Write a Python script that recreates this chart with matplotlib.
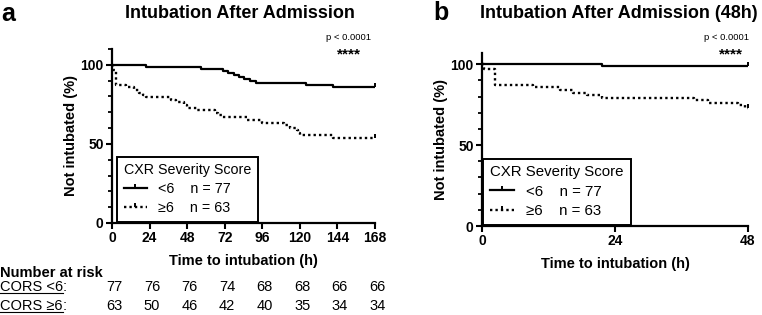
import matplotlib
matplotlib.use("Agg")
import matplotlib.pyplot as plt
from matplotlib.lines import Line2D
from matplotlib import transforms
from matplotlib.ticker import MultipleLocator

plt.rcParams['font.family'] = ['Liberation Sans', 'DejaVu Sans']

# panel a: 0-168 h, Kaplan-Meier steps
a_low_t = [0, 22, 57, 71, 74, 78, 81, 84, 88, 92, 124, 141, 168]
a_low_s = [100, 98.7, 97.4, 96.1, 94.8, 93.5, 92.2, 90.9, 89.6, 88.3, 87.0, 85.7, 85.7]
a_high_t = [0, 0.4, 2.5, 9, 14, 17, 20, 22, 38, 41, 46, 48, 54, 66, 68, 70,
            86, 96, 110, 114, 118, 119, 120, 141, 168]
a_high_s = [100, 96.8, 87.3, 85.7, 84.1, 82.5, 81.0, 79.4, 77.8, 76.2, 74.6, 73.0,
            71.4, 69.8, 68.3, 66.7, 65.1, 63.5, 61.9, 60.3, 58.7, 57.1, 55.6, 54.0, 54.0]

# panel b: first 48 h
b_low_t = [0, 21.7, 48]
b_low_s = [100, 98.7, 98.7]
b_high_t = [0, 0.3, 2.3, 9.2, 14, 16.5, 19, 21.7, 38.2, 40.8, 46.2, 47.5, 48]
b_high_s = [100, 96.8, 87.3, 85.7, 84.1, 82.5, 81.0, 79.4, 77.8, 76.2, 74.6, 73.0, 73.0]

risk_times = [0, 24, 48, 72, 96, 120, 144, 168]
risk_low = [77, 76, 76, 74, 68, 68, 66, 66]
risk_high = [63, 50, 46, 42, 40, 35, 34, 34]

W, H = 762, 315
fig = plt.figure(figsize=(W / 100, H / 100), dpi=100)


def px_axes(left, right, top, bottom):
    return fig.add_axes([left / W, 1 - bottom / H, (right - left) / W, (bottom - top) / H])


def ftxt(x, y, s, **kw):
    kw.setdefault('va', 'center')
    return fig.text(x / W, 1 - y / H, s, **kw)


def style(ax, xmax, xstep, ytop):
    ax.set_xlim(0, xmax)
    ax.set_ylim(0, ytop)
    for sp in ['top', 'right']:
        ax.spines[sp].set_visible(False)
    for sp in ['left', 'bottom']:
        ax.spines[sp].set_linewidth(1.6)
    ax.xaxis.set_major_locator(MultipleLocator(xstep))
    ax.yaxis.set_major_locator(MultipleLocator(50))
    ax.yaxis.set_minor_locator(MultipleLocator(10))
    ax.tick_params(axis='both', which='major', direction='out', length=4, width=1.5,
                   labelsize=10, pad=2)
    ax.tick_params(axis='y', which='minor', left=True, direction='out', length=3.2, width=1.3)
    for lab in ax.get_xticklabels() + ax.get_yticklabels():
        lab.set_fontweight('bold')
    ax.set_xlabel('Time to intubation (h)', fontsize=10.5, fontweight='bold', labelpad=6)
    ax.set_ylabel('Not intubated (%)', fontsize=10.5, fontweight='bold', labelpad=2)
    ax.patch.set_visible(False)


def draw(ax, lt, ls, ht, hs):
    ax.plot(lt, ls, drawstyle='steps-post', color='black', lw=1.6, solid_capstyle='butt')
    ax.plot(ht, hs, drawstyle='steps-post', color='black', lw=1.7, linestyle=(0, (1, 1.3)))
    ax.plot([lt[-1]], [ls[-1]], marker=2, color='black', ms=3, mew=1.4)
    ax.plot([ht[-1]], [hs[-1]], marker=2, color='black', ms=3, mew=1.4)
    handles = [Line2D([], [], color='black', lw=1.6, marker=2, ms=3, mew=1.4),
               Line2D([], [], color='black', lw=1.7, linestyle=(0, (1, 1.3)), marker=2, ms=3, mew=1.4)]
    return handles


labels = ['<6    n = 77', '\u22656    n = 63']


def legend(ax, h, x0, fs):
    leg = ax.legend(h, labels, title='CXR Severity Score', loc='lower left',
                    bbox_to_anchor=(x0, 0.0), fontsize=fs, title_fontsize=fs,
                    alignment='left', numpoints=1, handlelength=1.6, handletextpad=0.8,
                    fancybox=False, edgecolor='black', framealpha=1, borderpad=0.45,
                    labelspacing=0.35, borderaxespad=0.1)
    leg.get_frame().set_linewidth(1.4)


# ---- panel a
ax_a = px_axes(112, 375, 49, 223)
style(ax_a, 168, 24, 110)
legend(ax_a, draw(ax_a, a_low_t, a_low_s, a_high_t, a_high_s), 0.015, 10.3)

# ---- panel b
ax_b = px_axes(482, 748, 53, 226)
style(ax_b, 48, 24, 107)
legend(ax_b, draw(ax_b, b_low_t, b_low_s, b_high_t, b_high_s), 0.0, 10.8)

# titles, panel letters, p values
ftxt(1, 14, 'a', fontsize=18, fontweight='bold', ha='left')
ftxt(433, 13, 'b', fontsize=18, fontweight='bold', ha='left')
ftxt(240, 13, 'Intubation After Admission', fontsize=13, fontweight='bold', ha='center')
ftxt(619, 13, 'Intubation After Admission (48h)', fontsize=13, fontweight='bold', ha='center')
ftxt(349, 38, 'p < 0.0001', fontsize=6.8, ha='center')
ftxt(349, 54, '****', fontsize=11, fontweight='bold', ha='center')
ftxt(727, 38, 'p < 0.0001', fontsize=6.8, ha='center')
ftxt(731, 54, '****', fontsize=11, fontweight='bold', ha='center')

# number at risk table
ftxt(0, 273, 'Number at risk', fontsize=10.5, fontweight='bold', ha='left')
r1 = ftxt(0, 287, 'CORS <6', fontsize=10.5, ha='left')
r2 = ftxt(0, 306, 'CORS \u22656', fontsize=10.5, ha='left')
fig.canvas.draw()
rend = fig.canvas.get_renderer()
inv = fig.transFigure.inverted()
for r in (r1, r2):
    bb = r.get_window_extent(rend).transformed(inv)
    fig.text(bb.x1, (bb.y0 + bb.y1) / 2, ':', fontsize=10.5, va='center', ha='left')
    fig.add_artist(Line2D([bb.x0, bb.x1], [bb.y0 + 0.004, bb.y0 + 0.004], color='black',
                          lw=0.8, transform=fig.transFigure))

tr = transforms.blended_transform_factory(ax_a.transData, fig.transFigure)
for t, nl, nh in zip(risk_times, risk_low, risk_high):
    fig.text(t + 1.5, 1 - 287 / H, str(nl), transform=tr, fontsize=10.5, ha='center', va='center')
    fig.text(t + 1.5, 1 - 306 / H, str(nh), transform=tr, fontsize=10.5, ha='center', va='center')

fig.savefig('out.png', dpi=100)
